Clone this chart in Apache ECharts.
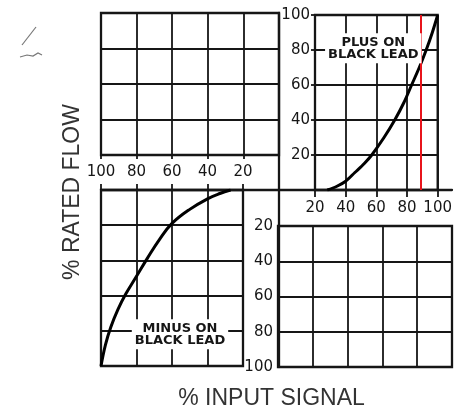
<!DOCTYPE html>
<html>
<head>
<meta charset="utf-8">
<script src="https://cdn.jsdelivr.net/npm/echarts@6/dist/echarts.min.js"></script>
<style>
  html, body { margin: 0; padding: 0; background: #fff; }
  #chart { width: 455px; height: 415px; }
</style>
</head>
<body>
<div id="chart"></div>
<script>
// plus on black lead -> upper right quadrant
var plusInput = [28, 34, 40, 46, 52, 57, 65, 72, 78, 83, 88, 92.5, 96.5, 100];
var plusFlow  = [0, 2, 5, 10, 15, 20, 30, 40, 50, 60, 70, 80, 90, 100];
// minus on black lead -> lower left quadrant (distances from the centre)
var minusInput = [27, 33, 40, 50, 60, 67, 74, 80, 86, 90.5, 94.5, 97.5, 100];
var minusFlow  = [0, 2, 5, 11, 19, 28, 39, 49, 59, 68, 78, 88, 100];
var redInput = 89;
var plusText = 'PLUS ON\nBLACK LEAD';
var minusText = 'MINUS ON\nBLACK LEAD';
var xTitle = '% INPUT SIGNAL';
var yTitle = '% RATED FLOW';

function pairs(xs, ys) {
  return xs.map(function (x, i) { return [x, ys[i]]; });
}

var ink = '#161616';
var gridLine = { color: ink, width: 1.8 };

// plain quadrant axis: grid lines only, no labels
function qAxis(extra) {
  var base = {
    type: 'value', interval: 20,
    axisLine: { show: false },
    axisTick: { show: false },
    axisLabel: { show: false },
    splitLine: { show: true, lineStyle: gridLine }
  };
  return Object.assign(base, extra);
}

function tickLabel(margin, extra) {
  return Object.assign({
    show: true, margin: margin, color: ink,
    fontFamily: 'DejaVu Sans', fontSize: 15
  }, extra || {});
}

function boxLabel(text) {
  return {
    show: true, position: 'inside', formatter: text,
    backgroundColor: '#fff', padding: [3, 3],
    color: ink, fontFamily: 'DejaVu Sans', fontWeight: 'bold',
    fontSize: 13, lineHeight: 12, align: 'center', verticalAlign: 'middle'
  };
}

var box = { show: true, borderColor: ink, borderWidth: 2.3, backgroundColor: 'transparent' };

var chart = echarts.init(document.getElementById('chart'));

var option = {
  animation: false,
  backgroundColor: '#fff',
  grid: [
    Object.assign({ left: 101, top: 13, width: 178, height: 142 }, box),  // 0 upper left
    Object.assign({ left: 315, top: 15, width: 137, height: 175 }, box),  // 1 upper right
    Object.assign({ left: 278, top: 226, width: 174, height: 141 }, box), // 2 lower right
    Object.assign({ left: 101, top: 190, width: 142, height: 176 }, box), // 3 lower left
    { left: 101, top: 13, width: 351, height: 354 },                       // 4 centre cross
    { left: 96, top: 17, width: 351, height: 354 }                         // 5 titles
  ],
  xAxis: [
    qAxis({ gridIndex: 0, min: 0, max: 100, inverse: true,
      axisTick: { show: true, length: 4, lineStyle: gridLine } }),
    qAxis({ gridIndex: 1, min: 20, max: 100, position: 'bottom',
      axisTick: { show: true, length: 7, lineStyle: gridLine },
      axisLabel: tickLabel(11) }),
    qAxis({ gridIndex: 2, min: 0, max: 100 }),
    qAxis({ gridIndex: 3, min: 20, max: 100, inverse: true, position: 'top',
      axisTick: { show: true, length: 6, lineStyle: gridLine },
      axisLabel: tickLabel(10) }),
    { gridIndex: 4, type: 'value', min: -100, max: 98,
      axisLine: { show: true, onZero: true, lineStyle: { color: ink, width: 2.3 } },
      axisTick: { show: false }, axisLabel: { show: false }, splitLine: { show: false } },
    { gridIndex: 5, type: 'value', min: 0, max: 1,
      axisLine: { show: false }, axisTick: { show: false },
      axisLabel: { show: false }, splitLine: { show: false },
      name: xTitle, nameLocation: 'middle', nameGap: 20,
      nameTextStyle: { fontFamily: 'Liberation Sans', fontSize: 23, color: '#333' } }
  ],
  yAxis: [
    qAxis({ gridIndex: 0, min: 20, max: 100 }),
    qAxis({ gridIndex: 1, min: 0, max: 100, position: 'left',
      axisTick: { show: true, length: 4, lineStyle: gridLine },
      axisLabel: tickLabel(5, { showMinLabel: false }) }),
    qAxis({ gridIndex: 2, min: 20, max: 100, inverse: true, position: 'left',
      axisLabel: tickLabel(5) }),
    qAxis({ gridIndex: 3, min: 0, max: 100, inverse: true }),
    { gridIndex: 4, type: 'value', min: -100, max: 100,
      axisLine: { show: true, onZero: true, lineStyle: { color: ink, width: 2.3 } },
      axisTick: { show: false }, axisLabel: { show: false }, splitLine: { show: false } },
    { gridIndex: 5, type: 'value', min: 0, max: 1,
      axisLine: { show: false }, axisTick: { show: false },
      axisLabel: { show: false }, splitLine: { show: false },
      name: yTitle, nameLocation: 'middle', nameRotate: 90, nameGap: 12,
      nameTextStyle: { fontFamily: 'Liberation Sans', fontSize: 23, color: '#333' } }
  ],
  graphic: [
    // pencil mark in the top left corner of the scan
    { type: 'polyline', shape: { points: [[36, 27], [29, 36], [22, 45]] },
      style: { stroke: '#777', lineWidth: 1.2, fill: null } },
    { type: 'polyline', shape: { points: [[20, 57], [27, 55], [33, 56], [38, 53], [42, 55]] },
      style: { stroke: '#777', lineWidth: 1.2, fill: null } }
  ],
  series: [
    {
      name: 'plus', type: 'line', xAxisIndex: 1, yAxisIndex: 1,
      data: pairs(plusInput, plusFlow), smooth: 0.3, showSymbol: false,
      lineStyle: { color: '#000', width: 3 },
      markPoint: {
        symbol: 'rect', symbolSize: 1, itemStyle: { color: 'transparent' },
        label: boxLabel(plusText),
        data: [{ coord: [58, 81] }]
      }
    },
    {
      name: 'minus', type: 'line', xAxisIndex: 3, yAxisIndex: 3,
      data: pairs(minusInput, minusFlow), smooth: 0.4, showSymbol: false,
      lineStyle: { color: '#000', width: 3 },
      markPoint: {
        symbol: 'rect', symbolSize: 1, itemStyle: { color: 'transparent' },
        label: boxLabel(minusText),
        data: [{ coord: [55.5, 82] }]
      }
    },
    {
      name: 'marker', type: 'line', xAxisIndex: 1, yAxisIndex: 1, data: [], z: 10,
      markLine: {
        symbol: 'none', silent: true, label: { show: false },
        lineStyle: { color: '#e8141b', width: 2, type: 'solid' },
        data: [{ xAxis: redInput }]
      }
    }
  ]
};

chart.setOption(option);
window.addEventListener('resize', function () { chart.resize(); });
</script>
</body>
</html>
